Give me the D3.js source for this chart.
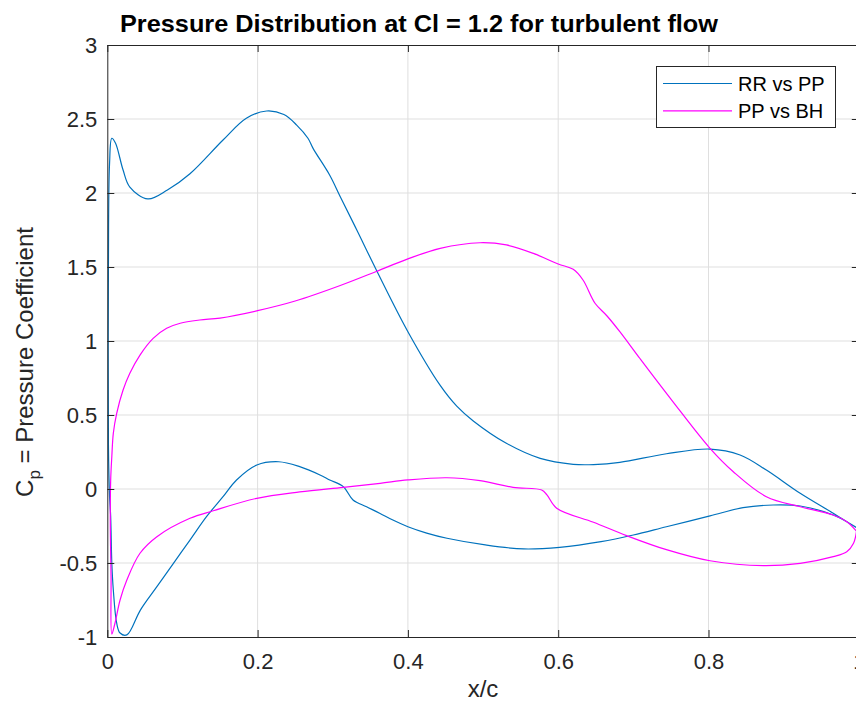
<!DOCTYPE html>
<html>
<head>
<meta charset="utf-8">
<script src="https://cdn.jsdelivr.net/npm/d3@7"></script>
<style>
    body { margin: 0; background: #fff; }
    svg { display: block; font-family: "Liberation Sans", Arial, sans-serif; }
    .axis path, .axis line { stroke: #262626; }
    .axis text { fill: #262626; font-size: 22px; }
</style>
</head>
<body>
<script>
// ================================
// DATA
// ================================

// RR vs PP, upper surface, leading edge -> trailing edge
var rrUpperX  = [0.0015, 0.0015, 0.003, 0.006, 0.011, 0.021, 0.030, 0.054, 0.080, 0.110, 0.154, 0.185, 0.212, 0.235, 0.252, 0.267, 0.274, 0.296, 0.310, 0.332, 0.358, 0.400, 0.443, 0.465, 0.487, 0.531, 0.576, 0.620, 0.647, 0.682, 0.744, 0.802, 0.842, 0.877, 0.922, 0.966, 0.995, 1.0];
var rrUpperCp = [0.30, 1.50, 2.20, 2.37, 2.336, 2.155, 2.04, 1.96, 2.02, 2.13, 2.358, 2.505, 2.554, 2.53, 2.459, 2.37, 2.30, 2.12, 1.975, 1.75, 1.48, 1.063, 0.70, 0.56, 0.46, 0.309, 0.207, 0.167, 0.165, 0.18, 0.238, 0.27, 0.23, 0.128, -0.029, -0.164, -0.255, -0.27];

// RR vs PP, lower surface
var rrLowerX  = [0.0015, 0.003, 0.0045, 0.006, 0.008, 0.0125, 0.017, 0.026, 0.044, 0.066, 0.088, 0.110, 0.132, 0.154, 0.172, 0.199, 0.228, 0.256, 0.283, 0.296, 0.314, 0.327, 0.345, 0.363, 0.380, 0.400, 0.425, 0.452, 0.503, 0.554, 0.602, 0.657, 0.700, 0.744, 0.802, 0.846, 0.886, 0.922, 0.966, 1.0];
var rrLowerCp = [0.30, -0.05, -0.187, -0.50, -0.682, -0.907, -0.973, -0.986, -0.818, -0.66, -0.502, -0.345, -0.187, -0.052, 0.061, 0.162, 0.184, 0.151, 0.095, 0.061, 0.016, -0.074, -0.12, -0.165, -0.21, -0.255, -0.298, -0.333, -0.378, -0.405, -0.394, -0.356, -0.311, -0.255, -0.182, -0.126, -0.108, -0.115, -0.176, -0.27];

// PP vs BH, upper surface
var ppUpperX  = [0.006, 0.005, 0.004, 0.0045, 0.006, 0.008, 0.0125, 0.021, 0.030, 0.0435, 0.061, 0.079, 0.097, 0.123, 0.150, 0.200, 0.250, 0.310, 0.358, 0.400, 0.443, 0.496, 0.531, 0.567, 0.600, 0.620, 0.633, 0.649, 0.665, 0.682, 0.709, 0.751, 0.802, 0.833, 0.877, 0.922, 0.966, 0.984, 0.997];
var ppUpperCp = [-0.98, -0.60, -0.21, 0.061, 0.218, 0.376, 0.511, 0.669, 0.782, 0.905, 1.018, 1.086, 1.12, 1.142, 1.155, 1.205, 1.27, 1.375, 1.47, 1.555, 1.626, 1.664, 1.649, 1.592, 1.52, 1.484, 1.412, 1.255, 1.169, 1.063, 0.88, 0.601, 0.275, 0.117, -0.052, -0.12, -0.176, -0.221, -0.285];

// PP vs BH, lower surface
var ppLowerX  = [0.006, 0.0102, 0.017, 0.026, 0.0435, 0.066, 0.110, 0.141, 0.199, 0.256, 0.314, 0.363, 0.400, 0.452, 0.496, 0.540, 0.578, 0.585, 0.598, 0.647, 0.691, 0.744, 0.802, 0.873, 0.922, 0.966, 0.984, 0.993, 0.997];
var ppLowerCp = [-0.98, -0.907, -0.75, -0.615, -0.434, -0.322, -0.198, -0.147, -0.063, -0.02, 0.011, 0.038, 0.061, 0.076, 0.056, 0.011, -0.007, -0.04, -0.13, -0.225, -0.315, -0.41, -0.485, -0.518, -0.502, -0.457, -0.424, -0.367, -0.285];

var seriesNames = ["RR vs PP", "PP vs BH"];
var seriesColors = ["#0072BD", "#FF00FF"];

var xTicks = [0, 0.2, 0.4, 0.6, 0.8, 1];
var yTicks = [-1, -0.5, 0, 0.5, 1, 1.5, 2, 2.5, 3];

var titleText = "Pressure Distribution at Cl = 1.2 for turbulent flow";


// ================================
// SETUP
// ================================
var width = 856,
    height = 706;

var plot = { left: 107.3, right: 858.8, top: 45, bottom: 637 };

var svg = d3.select("body")
    .append("svg")
    .attr("width", width)
    .attr("height", height);

var x = d3.scaleLinear().domain([0, 1]).range([plot.left, plot.right]);
var y = d3.scaleLinear().domain([-1, 3]).range([plot.bottom, plot.top]);

// build loop: upper reversed (TE -> LE) then lower (LE -> TE)
function makeLoop(ux, ucp, lx, lcp){
    var pts = [];
    for (var i = ux.length - 1; i >= 0; i--) pts.push([ux[i], ucp[i]]);
    for (var j = 1; j < lx.length; j++) pts.push([lx[j], lcp[j]]);
    return pts;
}

var series = [
    makeLoop(rrUpperX, rrUpperCp, rrLowerX, rrLowerCp),
    makeLoop(ppUpperX, ppUpperCp, ppLowerX, ppLowerCp)
];


// ================================
// GRID
// ================================
var grid = svg.append("g").attr("class", "grid");

grid.selectAll(".vgrid")
    .data(xTicks.slice(1, -1))
    .enter()
    .append("line")
    .attr("x1", function(d){ return x(d); })
    .attr("x2", function(d){ return x(d); })
    .attr("y1", plot.top)
    .attr("y2", plot.bottom)
    .attr("stroke", "#dfdfdf");

grid.selectAll(".hgrid")
    .data(yTicks.slice(1, -1))
    .enter()
    .append("line")
    .attr("x1", plot.left)
    .attr("x2", plot.right)
    .attr("y1", function(d){ return y(d); })
    .attr("y2", function(d){ return y(d); })
    .attr("stroke", "#dfdfdf");


// ================================
// CURVES
// ================================
svg.append("clipPath")
    .attr("id", "clip")
    .append("rect")
    .attr("x", plot.left)
    .attr("y", plot.top)
    .attr("width", plot.right - plot.left)
    .attr("height", plot.bottom - plot.top);

var line = d3.line()
    .x(function(d){ return x(d[0]); })
    .y(function(d){ return y(d[1]); })
    .curve(d3.curveCatmullRom.alpha(0.5));

svg.append("g")
    .attr("clip-path", "url(#clip)")
    .selectAll(".curve")
    .data(series)
    .enter()
    .append("path")
    .attr("class", "curve")
    .attr("d", line)
    .attr("fill", "none")
    .attr("stroke", function(d, i){ return seriesColors[i]; })
    .attr("stroke-width", 1.2);


// ================================
// AXES (box with inward ticks)
// ================================
var tickLen = 7;

svg.append("g")
    .attr("class", "axis")
    .attr("transform", "translate(0," + plot.bottom + ")")
    .call(d3.axisBottom(x).tickValues(xTicks).tickSizeInner(-tickLen).tickSizeOuter(0)
        .tickPadding(16).tickFormat(function(d){ return String(d); }));

svg.append("g")
    .attr("class", "axis")
    .attr("transform", "translate(0," + plot.top + ")")
    .call(d3.axisTop(x).tickValues(xTicks).tickSizeInner(-tickLen).tickSizeOuter(0).tickFormat(""));

svg.append("g")
    .attr("class", "axis")
    .attr("transform", "translate(" + plot.left + ",0)")
    .call(d3.axisLeft(y).tickValues(yTicks).tickSizeInner(-tickLen).tickSizeOuter(0)
        .tickPadding(10).tickFormat(function(d){ return String(d); }));

svg.append("g")
    .attr("class", "axis")
    .attr("transform", "translate(" + plot.right + ",0)")
    .call(d3.axisRight(y).tickValues(yTicks).tickSizeInner(-tickLen).tickSizeOuter(0).tickFormat(""));


// ================================
// TITLE + LABELS
// ================================
svg.append("text")
    .attr("x", 120)
    .attr("y", 32)
    .attr("textLength", 598)
    .attr("lengthAdjust", "spacingAndGlyphs")
    .style("font-size", "24px")
    .style("font-weight", "bold")
    .style("fill", "#000")
    .text(titleText);

svg.append("text")
    .attr("x", (plot.left + plot.right) / 2)
    .attr("y", 697)
    .attr("text-anchor", "middle")
    .style("font-size", "24px")
    .style("fill", "#262626")
    .text("x/c");

var ylab = svg.append("text")
    .attr("transform", "translate(33,362) rotate(-90)")
    .attr("text-anchor", "middle")
    .style("font-size", "24px")
    .style("fill", "#262626");
ylab.append("tspan").text("C");
ylab.append("tspan").attr("dy", 7).style("font-size", "17px").text("p");
ylab.append("tspan").attr("dy", -7).text(" = Pressure Coefficient");


// ================================
// LEGEND
// ================================
var legend = svg.append("g").attr("class", "legend");

legend.append("rect")
    .attr("x", 656.5)
    .attr("y", 66.5)
    .attr("width", 179)
    .attr("height", 61)
    .attr("fill", "#fff")
    .attr("stroke", "#262626");

var items = legend.selectAll(".item")
    .data(seriesNames)
    .enter()
    .append("g")
    .attr("transform", function(d, i){ return "translate(0," + (83.5 + i * 27.3) + ")"; });

items.append("line")
    .attr("x1", 663)
    .attr("x2", 732)
    .attr("stroke", function(d, i){ return seriesColors[i]; })
    .attr("stroke-width", 1.2);

items.append("text")
    .attr("x", 738)
    .attr("dy", "0.35em")
    .style("font-size", "20px")
    .style("fill", "#000")
    .text(function(d){ return d; });
</script>
</body>
</html>
